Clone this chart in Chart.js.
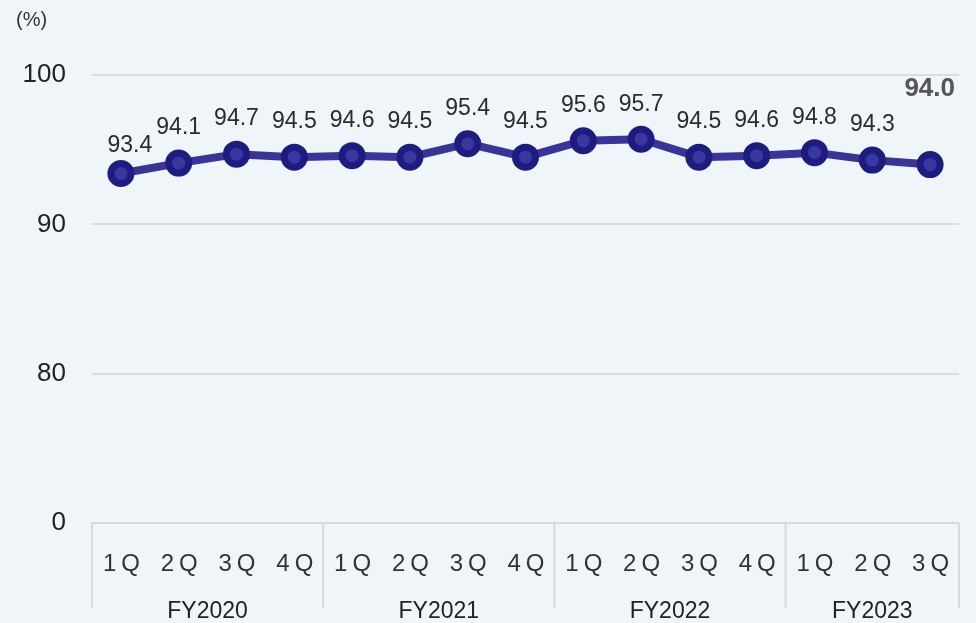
<!DOCTYPE html>
<html>
<head>
<meta charset="utf-8">
<script src="https://cdn.jsdelivr.net/npm/chart.js@4.4.1/dist/chart.umd.min.js"></script>
<style>
  html, body { margin: 0; padding: 0; background: #f0f5fa; }
  #wrap { position: relative; width: 976px; height: 623px; }
</style>
</head>
<body>
<div id="wrap"><canvas id="chart"></canvas></div>
<script>
// quarterly data
const quarters = ['1Q', '2Q', '3Q', '4Q', '1Q', '2Q', '3Q', '4Q', '1Q', '2Q', '3Q', '4Q', '1Q', '2Q', '3Q'];
const fiscalYears = ['FY2020', 'FY2021', 'FY2022', 'FY2023'];
const yearSizes = [4, 4, 4, 3];
const rates = [93.4, 94.1, 94.7, 94.5, 94.6, 94.5, 95.4, 94.5, 95.6, 95.7, 94.5, 94.6, 94.8, 94.3, 94.0];
const yTicks = [70, 80, 90, 100];
const yTickLabels = ['0', '80', '90', '100'];

const FONT = "'Liberation Sans', Arial, sans-serif";
const DIVIDER = '#d6d9dd';

// draws value labels, quarter/year axis and dividers
const decorations = {
    id: 'decorations',
    afterDatasetsDraw(chart) {
        const ctx = chart.ctx;
        const x = chart.scales.x;
        const area = chart.chartArea;
        const meta = chart.getDatasetMeta(0);

        ctx.save();

        // value labels (first one nudged to clear the line)
        meta.data.forEach((pt, i) => {
            const last = i === rates.length - 1;
            ctx.textBaseline = 'middle';
            if (last) {
                ctx.font = 'bold 26px ' + FONT;
                ctx.fillStyle = '#555555';
                ctx.textAlign = 'right';
                ctx.fillText(rates[i].toFixed(1), area.right - 4, 89);
            } else {
                ctx.font = '23px ' + FONT;
                ctx.fillStyle = '#2b2b2b';
                ctx.textAlign = 'center';
                if (i === 0) ctx.fillText(rates[i].toFixed(1), pt.x + 9, pt.y - 28);
                else ctx.fillText(rates[i].toFixed(1), pt.x, pt.y - 35);
            }
        });

        // bottom axis line
        ctx.strokeStyle = DIVIDER;
        ctx.lineWidth = 2;
        ctx.beginPath();
        ctx.moveTo(area.left, area.bottom);
        ctx.lineTo(area.right, area.bottom);
        ctx.stroke();

        // quarter labels
        ctx.font = '24px ' + FONT;
        ctx.fillStyle = '#333333';
        ctx.textAlign = 'center';
        ctx.textBaseline = 'middle';
        ctx.letterSpacing = '5px';
        quarters.forEach((q, i) => {
            ctx.fillText(q, x.getPixelForValue(i) + 3, area.bottom + 41);
        });
        ctx.letterSpacing = '0px';

        // year groups
        const half = (x.getPixelForValue(1) - x.getPixelForValue(0)) / 2;
        let start = 0;
        ctx.font = '23px ' + FONT;
        ctx.fillStyle = '#222222';
        fiscalYears.forEach((fy, g) => {
            const end = start + yearSizes[g] - 1;
            const left = x.getPixelForValue(start) - half;
            const right = x.getPixelForValue(end) + half;
            ctx.beginPath();
            ctx.moveTo(left, area.bottom);
            ctx.lineTo(left, area.bottom + 85);
            ctx.stroke();
            if (g === fiscalYears.length - 1) {
                ctx.beginPath();
                ctx.moveTo(right, area.bottom);
                ctx.lineTo(right, area.bottom + 85);
                ctx.stroke();
            }
            ctx.fillText(fy, (left + right) / 2, area.bottom + 89);
            start = end + 1;
        });

        ctx.restore();
    }
};

const ctx = document.getElementById('chart').getContext('2d');
new Chart(ctx, {
    type: 'line',
    data: {
        labels: quarters.map((q, i) => i),
        datasets: [{
            data: rates,
            borderColor: '#3a3499',
            borderWidth: 8,
            pointRadius: 10,
            pointHoverRadius: 10,
            pointBackgroundColor: '#3b37a1',
            pointBorderColor: '#1d1c80',
            pointBorderWidth: 7,
            tension: 0
        }]
    },
    options: {
        responsive: true,
        maintainAspectRatio: false,
        animation: false,
        layout: { padding: { top: 75, bottom: 100, right: 14, left: 0 } },
        plugins: {
            legend: { display: false },
            tooltip: { enabled: false },
            title: {
                display: false
            }
        },
        scales: {
            x: {
                type: 'category',
                display: false,
                offset: true
            },
            y: {
                min: 70,
                max: 100,
                afterBuildTicks: s => { s.ticks = yTicks.map(v => ({ value: v })); },
                afterFit: s => { s.width = 92; },
                border: { display: false },
                grid: {
                    drawTicks: false,
                    color: c => c.tick && c.tick.value === 70 ? 'rgba(0,0,0,0)' : '#d9dde2',
                    lineWidth: 2
                },
                ticks: {
                    padding: 26,
                    color: '#222222',
                    font: { family: FONT, size: 26 },
                    callback: v => yTickLabels[yTicks.indexOf(v)]
                }
            }
        }
    },
    plugins: [decorations, {
        id: 'unitLabel',
        afterDraw(chart) {
            const c = chart.ctx;
            c.save();
            c.font = '20px ' + FONT;
            c.fillStyle = '#333333';
            c.textAlign = 'left';
            c.textBaseline = 'middle';
            c.fillText('(%)', 16, 20);
            c.restore();
        }
    }]
});
</script>
</body>
</html>
